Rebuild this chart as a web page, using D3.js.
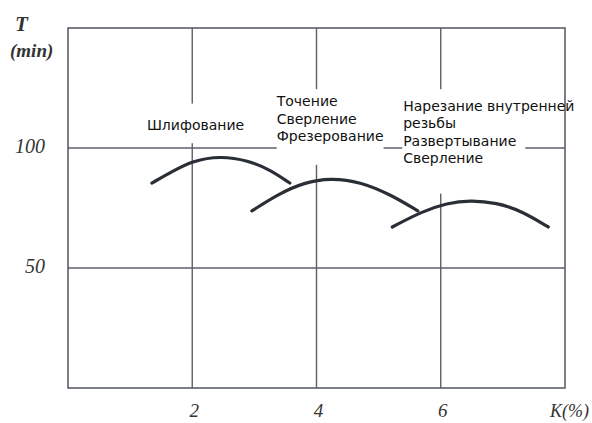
<!DOCTYPE html>
<html>
<head>
<meta charset="utf-8">
<script src="https://cdn.jsdelivr.net/npm/d3@7"></script>
<style>
  body { margin: 0; background: #fff; }
  svg { display: block; }
</style>
</head>
<body>
<svg id="chart" width="592" height="423"></svg>
<script>
// tool life T (min) vs K(%)
var xTicks = [2, 4, 6];
var yTicks = [50, 100];

var grindK = [1.35, 1.7, 2.0, 2.45, 2.9, 3.25, 3.57];
var grindT = [85.4, 90.5, 94.6, 96.7, 94.8, 91.0, 85.4];

var turnK = [2.96, 3.4, 3.8, 4.22, 4.7, 5.2, 5.63];
var turnT = [73.8, 81.0, 85.6, 87.5, 86.0, 80.5, 73.8];

var threadK = [5.22, 5.7, 6.1, 6.47, 6.9, 7.3, 7.73];
var threadT = [67.1, 73.6, 77.0, 78.3, 77.2, 73.8, 67.1];

var labels1 = ["Шлифование"];
var labels2 = ["Точение", "Сверление", "Фрезерование"];
var labels3 = ["Нарезание внутренней", "резьбы", "Развертывание", "Сверление"];

var svg = d3.select("#chart");

var x = d3.scaleLinear().domain([0, 8]).range([68, 565]);
var y = d3.scaleLinear().domain([0, 150]).range([388, 28]);

var gridColor = "#5b5f68";

// grid
svg.append("g").selectAll("line.v")
	.data(xTicks)
	.enter().append("line")
		.attr("x1", function(d){ return x(d); })
		.attr("x2", function(d){ return x(d); })
		.attr("y1", y(150))
		.attr("y2", y(0))
		.attr("stroke", gridColor)
		.attr("stroke-width", 1.4);

svg.append("g").selectAll("line.h")
	.data(yTicks)
	.enter().append("line")
		.attr("x1", x(0))
		.attr("x2", x(8))
		.attr("y1", function(d){ return y(d); })
		.attr("y2", function(d){ return y(d); })
		.attr("stroke", gridColor)
		.attr("stroke-width", 1.4);

// frame
svg.append("rect")
	.attr("x", x(0))
	.attr("y", y(150))
	.attr("width", x(8) - x(0))
	.attr("height", y(0) - y(150))
	.attr("fill", "none")
	.attr("stroke", gridColor)
	.attr("stroke-width", 1.6);

// label blocks: white box (data coords) that hides the grid, then the text
var blocks = [
	{ lines: labels1, k: 1.27, t: 107.5, box: [1.24, 2.85, 118.5, 102.0] },
	{ lines: labels2, k: 3.36, t: 117.5, box: [3.36, 5.08, 124.5, 93.0] },
	{ lines: labels3, k: 5.395, t: 115.5, box: [5.38, 7.36, 124.5, 81.0] }
];

blocks.forEach(function(b){
	svg.append("rect")
		.attr("x", x(b.box[0]))
		.attr("y", y(b.box[2]))
		.attr("width", x(b.box[1]) - x(b.box[0]))
		.attr("height", y(b.box[3]) - y(b.box[2]))
		.attr("fill", "#fff");

	svg.append("g").selectAll("text")
		.data(b.lines)
		.enter().append("text")
			.attr("x", x(b.k))
			.attr("y", function(d, i){ return y(b.t) + i * 17.5; })
			.attr("font-family", "DejaVu Sans, sans-serif")
			.attr("font-size", 14)
			.attr("fill", "#111")
			.text(function(d){ return d; });
});

// curves
var line = d3.line()
	.x(function(d){ return x(d[0]); })
	.y(function(d){ return y(d[1]); })
	.curve(d3.curveBasis);

[[grindK, grindT], [turnK, turnT], [threadK, threadT]].forEach(function(s){
	svg.append("path")
		.datum(d3.zip(s[0], s[1]))
		.attr("d", line)
		.attr("fill", "none")
		.attr("stroke", "#2a2e36")
		.attr("stroke-width", 3.2)
		.attr("stroke-linecap", "round");
});

// tick labels
svg.append("g").selectAll("text")
	.data(xTicks)
	.enter().append("text")
		.attr("x", function(d){ return x(d) + 2; })
		.attr("y", 417)
		.attr("text-anchor", "middle")
		.attr("font-family", "Liberation Serif, serif")
		.attr("font-style", "italic")
		.attr("font-size", 19)
		.attr("fill", "#333")
		.text(function(d){ return d; });

svg.append("g").selectAll("text")
	.data(yTicks)
	.enter().append("text")
		.attr("x", 45)
		.attr("y", function(d){ return y(d) + 5; })
		.attr("text-anchor", "end")
		.attr("font-family", "Liberation Serif, serif")
		.attr("font-style", "italic")
		.attr("font-size", 20)
		.attr("fill", "#333")
		.text(function(d){ return d; });

// axis titles
svg.append("text")
	.attr("x", 550)
	.attr("y", 417)
	.attr("font-family", "Liberation Serif, serif")
	.attr("font-style", "italic")
	.attr("font-size", 18)
	.attr("fill", "#333")
	.text("K(%)");

svg.append("text")
	.attr("x", 15)
	.attr("y", 31)
	.attr("font-family", "Liberation Serif, serif")
	.attr("font-style", "italic")
	.attr("font-weight", "bold")
	.attr("font-size", 21)
	.attr("fill", "#333")
	.text("T");

svg.append("text")
	.attr("x", 10)
	.attr("y", 57)
	.attr("font-family", "Liberation Serif, serif")
	.attr("font-style", "italic")
	.attr("font-weight", "bold")
	.attr("font-size", 19)
	.attr("fill", "#333")
	.text("(min)");
</script>
</body>
</html>
